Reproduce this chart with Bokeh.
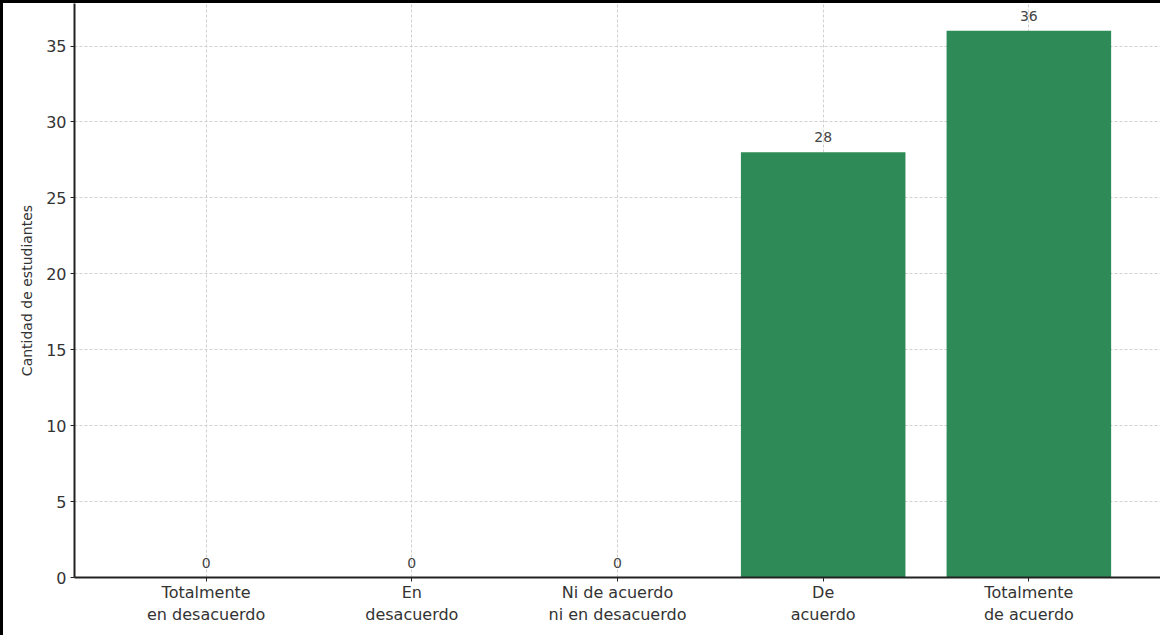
from bokeh.plotting import figure
from bokeh.models import ColumnDataSource, FixedTicker, Range1d
from bokeh.embed import file_html
from bokeh.resources import INLINE
from bokeh.core.properties import value

categories = ["Totalmente\nen desacuerdo", "En\ndesacuerdo", "Ni de acuerdo\nni en desacuerdo", "De\nacuerdo", "Totalmente\nde acuerdo"]
counts = [0, 0, 0, 28, 36]
y_ticks = [0, 5, 10, 15, 20, 25, 30, 35]

xs = list(range(len(categories)))
src = ColumnDataSource(dict(x=xs, top=counts, label=[str(c) for c in counts]))

p = figure(width=1160, height=635, output_backend="svg", toolbar_location=None,
           x_range=Range1d(-0.64, 4.64), y_range=Range1d(0, 37.8),
           min_border_left=71, min_border_right=3, min_border_top=0, min_border_bottom=61)
p.styles = {"border-top": "3px solid black", "border-left": "3px solid black"}
p.outline_line_color = None

p.vbar(x="x", top="top", width=0.8, bottom=0, source=src, fill_color="#2e8b57", line_color=None)
p.text(x="x", y="top", text="label", source=src, text_align="center", text_baseline="bottom",
       y_offset=-10, text_font=value("DejaVu Sans"), text_font_size="14px", text_color="#444444")

p.xaxis.ticker = FixedTicker(ticks=xs)
p.xaxis.major_label_overrides = {i: c for i, c in enumerate(categories)}
p.yaxis.ticker = FixedTicker(ticks=y_ticks)

for ax in (p.xaxis[0], p.yaxis[0]):
    ax.axis_line_color = "#222222"
    ax.axis_line_width = 2
    ax.major_tick_line_color = "#222222"
    ax.major_tick_in = 0
    ax.major_tick_out = 4
    ax.minor_tick_line_color = None
    ax.major_label_text_font = "DejaVu Sans"
    ax.major_label_text_font_size = "16px"
    ax.major_label_text_color = "#333333"
    ax.major_label_standoff = 4

p.xaxis.major_label_standoff = 1

p.yaxis.axis_label = "Cantidad de estudiantes"
p.yaxis.axis_label_text_font = "DejaVu Sans"
p.yaxis.axis_label_text_font_size = "14px"
p.yaxis.axis_label_text_font_style = "normal"
p.yaxis.axis_label_text_color = "#333333"
p.yaxis.axis_label_standoff = 8

for g in (p.xgrid[0], p.ygrid[0]):
    g.grid_line_color = "#d0d0d0"
    g.grid_line_dash = "3 2"
    g.grid_line_width = 1

p.background_fill_color = "white"
p.border_fill_color = "white"

open("out.html", "w").write(file_html(p, INLINE))
